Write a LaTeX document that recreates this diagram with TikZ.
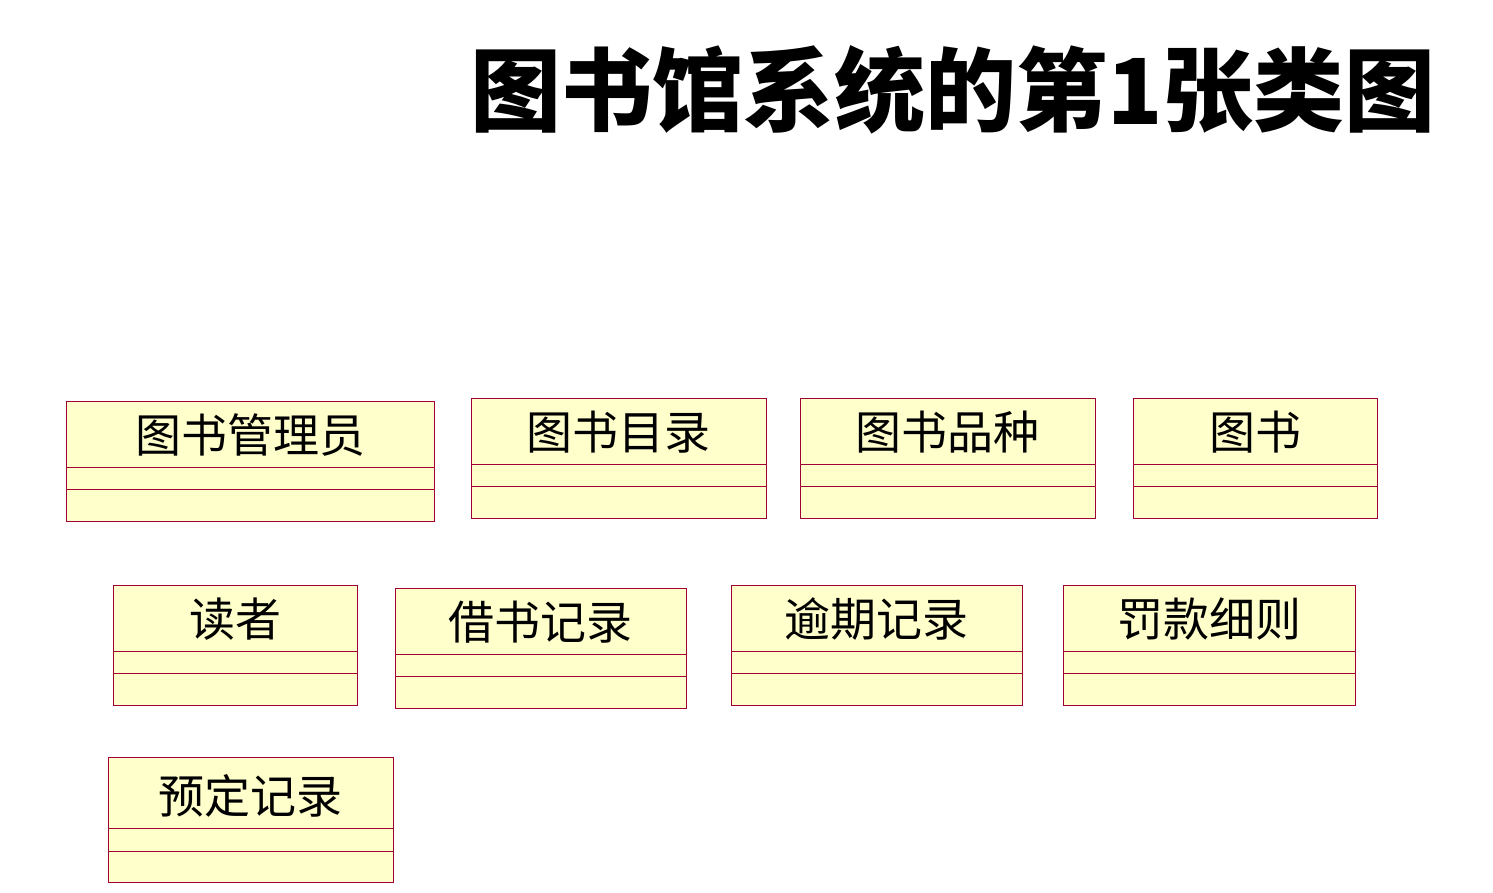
\documentclass[tikz,border=0pt]{standalone}
\usepackage{fontspec}
\newfontfamily\cjk{Noto Sans CJK SC}
\usepackage{xcolor}
\usepackage{tikz}
\usetikzlibrary{positioning,calc}

\definecolor{classline}{RGB}{160,0,55}
\definecolor{classfill}{RGB}{255,255,204}

\tikzset{
  classbox/.style={draw=classline,fill=classfill,anchor=north west,inner sep=0pt,line width=0.9pt},
  classname/.style={font=\cjk\fontsize{46}{46}\selectfont,inner sep=0pt},
  compline/.style={draw=classline,line width=0.9pt}
}

\begin{document}
\begin{tikzpicture}[x=1pt,y=-1pt]
  \useasboundingbox (0,0) rectangle (1493,893);
  % title
  \node[font=\cjk\bfseries\fontsize{91}{91}\selectfont,inner sep=0pt] (title) at (953,90) {图书馆系统的第1张类图};
  % class boxes: name/left/top/width/height/text centre/first line/second line/text
  \foreach \name/\x/\y/\w/\h/\t/\la/\lb/\txt in {
      admin/66/401/368/120/34/66/88/图书管理员,
      catalog/471/398/295/120/34/66/88/图书目录,
      kind/800/398/295/120/34/66/88/图书品种,
      book/1133/398/244/120/34/66/88/图书,
      reader/113/585/244/120/34/66/88/读者,
      borrow/395/588/291/120/34/66/88/借书记录,
      overdue/731/585/291/120/34/66/88/逾期记录,
      fine/1063/585/292/120/34/66/88/罚款细则,
      reserve/108/757/285/125/39/71/94/预定记录} {
    \node[classbox,minimum width=\w pt,minimum height=\h pt] (\name) at (\x,\y) {};
    \node[classname] (\name-t) at ($(\name.north)+(0,\t)$) {\txt};
    \draw[compline] ($(\name.north west)+(0,\la)$) -- ($(\name.north east)+(0,\la)$);
    \draw[compline] ($(\name.north west)+(0,\lb)$) -- ($(\name.north east)+(0,\lb)$);
  }
\end{tikzpicture}
\end{document}
